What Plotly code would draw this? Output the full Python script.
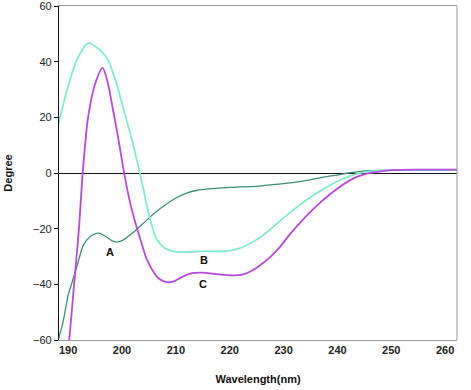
import plotly.graph_objects as go

# Curve A (teal)
wl_a = [188, 189, 189.4, 190, 190.6, 191.6, 192.8, 194, 195.6, 197, 198, 199, 200, 201, 202,
        204, 206, 208, 210, 212, 214, 216, 218, 220, 222, 224, 226, 228, 230, 233, 236,
        238, 240.4, 242, 244, 246, 250, 255, 260, 263]
deg_a = [-61, -54, -50, -44, -40, -33.8, -26, -23, -21.6, -22.8, -24.2, -24.8, -24.3, -23, -21.5,
         -18, -14.5, -11.5, -9, -7.2, -6.2, -5.7, -5.4, -5.2, -5, -4.9, -4.6, -4.2, -3.8, -3.1, -2,
         -1.3, -0.6, 0, 0.5, 0.8, 1, 1, 1, 1]

# Curve B (cyan)
wl_b = [188, 189.8, 191.6, 193.7, 195, 197.2, 199, 200, 202, 203.3, 204, 205, 206.5, 208,
        210, 212, 214, 216, 218.2, 220, 221.9, 223.7, 225.6, 227.5, 229.3, 231, 233, 234.8,
        236.7, 238.5, 240.4, 242.8, 245, 248, 250, 255, 260, 263]
deg_b = [16, 29.8, 40.6, 46.7, 45.5, 41.3, 32, 25, 10.7, 0, -6, -15, -24, -27, -28.3, -28.4,
         -28.2, -28.1, -28.2, -27.9, -27, -25.4, -23.2, -20.3, -17.3, -14.5, -11.5, -9,
         -6.6, -4.5, -2.6, -0.8, 0.3, 0.8, 1, 1, 1, 1]

# Curve C (magenta)
wl_c = [189.5, 190.2, 191.1, 192, 192.7, 193.7, 195, 196.4, 197.4, 198.3, 199.3, 200.3, 201.2,
        202.2, 203.2, 204.6, 206, 207, 208.3, 209.5, 211, 213, 215, 217, 219, 221, 222.5, 224,
        225.6, 227.5, 229.3, 231, 233, 234.8, 236.7, 238.5, 240.4, 242, 243.6, 245.5, 248,
        250, 255, 260, 263]
deg_c = [-72, -60, -40, -20, 0, 20, 32, 37.8, 32, 23, 12.5, 1, -8, -16, -22.5, -31, -36, -38.2,
         -39.2, -39, -37.5, -36, -35.8, -36.2, -36.6, -36.8, -36.4, -35.2, -33.2, -30.2,
         -26.6, -22.4, -18, -14.3, -10.8, -7.8, -5, -3, -1.4, -0.2, 0.6, 1, 1.2, 1.2, 1.2]

labels = ["A", "B", "C"]
label_x = [197.8, 215.2, 215.0]
label_y = [-28.4, -31.3, -39.9]

x_ticks = [190, 200, 210, 220, 230, 240, 250, 260]
y_ticks = [-60, -40, -20, 0, 20, 40, 60]

fig = go.Figure()
fig.add_trace(go.Scatter(x=wl_a, y=deg_a, mode="lines", line=dict(color="#3a8f78", width=1.3, shape="spline", smoothing=0.8), showlegend=False))
fig.add_trace(go.Scatter(x=wl_b, y=deg_b, mode="lines", line=dict(color="#80ecd0", width=1.8, shape="spline", smoothing=0.8), showlegend=False))
fig.add_trace(go.Scatter(x=wl_c, y=deg_c, mode="lines", line=dict(color="#b848e0", width=1.8, shape="spline", smoothing=0.8), showlegend=False))

for t, x, y in zip(labels, label_x, label_y):
    fig.add_annotation(x=x, y=y, text=t, showarrow=False,
                       font=dict(family="Liberation Sans, Arial", size=11, color="#111", weight="bold"))

fig.update_layout(
    width=471, height=390,
    margin=dict(l=59, r=14, t=6, b=50, autoexpand=False),
    paper_bgcolor="white", plot_bgcolor="white",
    font=dict(family="Liberation Sans, Arial", color="#222"),
    xaxis=dict(range=[188.3, 262.2], tickvals=x_ticks, showgrid=False, zeroline=False,
               showline=True, linecolor="#999", linewidth=1, mirror=True, ticks="",
               automargin=False,
               tickfont=dict(size=11, weight="bold", color="#222"),
               title=dict(text="Wavelength(nm)", font=dict(size=11, weight="bold", color="#111"), standoff=20)),
    yaxis=dict(range=[-60, 60], tickvals=y_ticks, showgrid=False, automargin=False,
               ticklabeloverflow="allow",
               zeroline=True, zerolinecolor="#111", zerolinewidth=1.2,
               showline=True, linecolor="#111", linewidth=1.2, ticks="outside", ticklen=4,
               tickcolor="#111", tickfont=dict(size=11, color="#222"),
               title=dict(text="Degree", font=dict(size=11, weight="bold", color="#111"), standoff=18)),
)
fig.add_shape(type="line", xref="paper", yref="paper", x0=1, x1=1, y0=0, y1=1,
              line=dict(color="#999", width=1))

fig.write_html("out.html", config={"displayModeBar": False},
               post_script="document.body.style.margin='0';")
